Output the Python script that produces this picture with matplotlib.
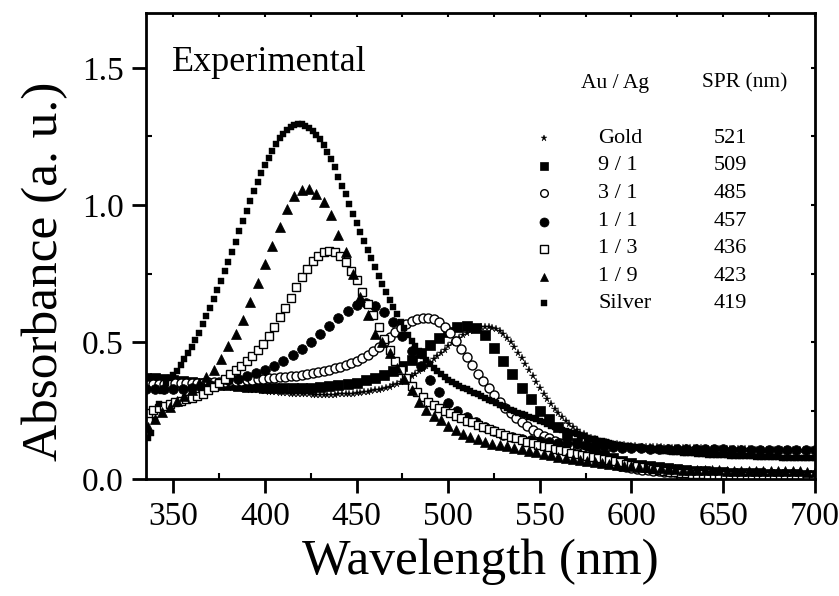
import numpy as np
import matplotlib
matplotlib.use('Agg')
import matplotlib.pyplot as plt
from matplotlib.ticker import MultipleLocator

plt.rcParams['font.family'] = ['Liberation Serif', 'DejaVu Serif']

# Au / Ag ratio, SPR position (nm)
names = ['Gold', '9 / 1', '3 / 1', '1 / 1', '1 / 3', '1 / 9', 'Silver']
spr = ['521', '509', '485', '457', '436', '423', '419']

# absorbance; first wavelength and scan step (nm) for each
gold_start, gold_step = 336, 2
gold = [0.360, 0.359, 0.358, 0.357, 0.356, 0.355, 0.354, 0.353, 0.352, 0.351,
        0.350, 0.349, 0.348, 0.347, 0.346, 0.345, 0.344, 0.343, 0.342, 0.340,
        0.339, 0.337, 0.336, 0.334, 0.333, 0.331, 0.330, 0.328, 0.327, 0.325,
        0.324, 0.322, 0.321, 0.319, 0.318, 0.317, 0.316, 0.314, 0.313, 0.312,
        0.311, 0.311, 0.310, 0.309, 0.309, 0.308, 0.308, 0.308, 0.308, 0.308,
        0.308, 0.308, 0.309, 0.309, 0.310, 0.311, 0.312, 0.313, 0.315, 0.317,
        0.319, 0.321, 0.324, 0.327, 0.330, 0.334, 0.338, 0.343, 0.348, 0.354,
        0.360, 0.367, 0.375, 0.384, 0.393, 0.403, 0.414, 0.425, 0.437, 0.449,
        0.461, 0.473, 0.484, 0.495, 0.506, 0.516, 0.525, 0.533, 0.540, 0.546,
        0.551, 0.554, 0.556, 0.556, 0.553, 0.548, 0.540, 0.530, 0.516, 0.500,
        0.482, 0.462, 0.441, 0.420, 0.398, 0.376, 0.354, 0.333, 0.312, 0.292,
        0.274, 0.257, 0.241, 0.226, 0.212, 0.200, 0.189, 0.179, 0.170, 0.163,
        0.156, 0.150, 0.145, 0.141, 0.137, 0.134, 0.131, 0.129, 0.127, 0.125,
        0.123, 0.122, 0.121, 0.120, 0.119, 0.118, 0.118, 0.117, 0.117, 0.116,
        0.116, 0.115, 0.115, 0.114, 0.114, 0.114, 0.113, 0.113, 0.113, 0.112,
        0.112, 0.112, 0.111, 0.111, 0.111, 0.111, 0.110, 0.110, 0.110, 0.110,
        0.109, 0.109, 0.109, 0.109, 0.109, 0.108, 0.108, 0.108, 0.108, 0.108,
        0.107, 0.107, 0.107, 0.107, 0.107, 0.107, 0.106, 0.106, 0.106, 0.106,
        0.106, 0.106, 0.106]

r91_start, r91_step = 335, 5
r91 = [0.370, 0.368, 0.365, 0.362, 0.358, 0.355, 0.352, 0.348, 0.345, 0.342,
       0.340, 0.337, 0.335, 0.334, 0.333, 0.333, 0.333, 0.333, 0.334, 0.336,
       0.339, 0.342, 0.346, 0.352, 0.360, 0.369, 0.381, 0.396, 0.414, 0.435,
       0.460, 0.488, 0.515, 0.538, 0.554, 0.558, 0.550, 0.525, 0.480, 0.432,
       0.384, 0.333, 0.292, 0.250, 0.218, 0.190, 0.160, 0.132, 0.118, 0.106,
       0.090, 0.077, 0.066, 0.058, 0.052, 0.047, 0.043, 0.039, 0.036, 0.033,
       0.031, 0.029, 0.027, 0.025, 0.024, 0.023, 0.022, 0.021, 0.020, 0.019,
       0.018, 0.018, 0.017, 0.017]

r31_start, r31_step = 336, 3
r31 = [0.345, 0.346, 0.347, 0.348, 0.349, 0.350, 0.350, 0.351, 0.351, 0.352,
       0.352, 0.353, 0.354, 0.355, 0.356, 0.357, 0.358, 0.359, 0.360, 0.362,
       0.364, 0.366, 0.368, 0.370, 0.372, 0.374, 0.376, 0.378, 0.380, 0.383,
       0.386, 0.390, 0.394, 0.399, 0.404, 0.410, 0.416, 0.423, 0.431, 0.441,
       0.453, 0.467, 0.483, 0.500, 0.518, 0.536, 0.553, 0.567, 0.578, 0.585,
       0.588, 0.587, 0.583, 0.572, 0.555, 0.533, 0.505, 0.475, 0.447, 0.416,
       0.384, 0.357, 0.332, 0.306, 0.283, 0.261, 0.241, 0.223, 0.207, 0.193,
       0.180, 0.169, 0.159, 0.150, 0.140, 0.131, 0.122, 0.113, 0.105, 0.097,
       0.089, 0.081, 0.073, 0.066, 0.060, 0.054, 0.049, 0.045, 0.041, 0.038,
       0.035, 0.033, 0.031, 0.029, 0.028, 0.026, 0.025, 0.024, 0.022, 0.021,
       0.020, 0.019, 0.018, 0.017, 0.016, 0.016, 0.015, 0.015, 0.014, 0.014,
       0.013, 0.013, 0.012, 0.012, 0.012, 0.011, 0.011, 0.011, 0.010, 0.010,
       0.010, 0.010]

r11_start, r11_step = 335, 5
r11 = [0.330, 0.329, 0.329, 0.329, 0.329, 0.332, 0.338, 0.345, 0.352, 0.360,
       0.367, 0.375, 0.386, 0.397, 0.413, 0.431, 0.452, 0.475, 0.502, 0.530,
       0.560, 0.588, 0.614, 0.634, 0.644, 0.632, 0.610, 0.572, 0.522, 0.467,
       0.413, 0.360, 0.318, 0.279, 0.249, 0.226, 0.209, 0.190, 0.175, 0.162,
       0.154, 0.148, 0.143, 0.139, 0.136, 0.133, 0.131, 0.128, 0.126, 0.124,
       0.121, 0.118, 0.115, 0.113, 0.112, 0.111, 0.111, 0.110, 0.110, 0.110,
       0.109, 0.109, 0.109, 0.109, 0.108, 0.108, 0.108, 0.108, 0.108, 0.107,
       0.107, 0.107, 0.107, 0.107]

r13_start, r13_step = 336, 3
r13 = [0.241, 0.252, 0.260, 0.268, 0.274, 0.280, 0.285, 0.291, 0.297, 0.303,
       0.311, 0.325, 0.338, 0.352, 0.367, 0.382, 0.397, 0.413, 0.430, 0.448,
       0.470, 0.494, 0.522, 0.555, 0.590, 0.625, 0.662, 0.700, 0.737, 0.768,
       0.795, 0.815, 0.828, 0.833, 0.830, 0.815, 0.792, 0.760, 0.725, 0.683,
       0.640, 0.600, 0.556, 0.512, 0.470, 0.432, 0.400, 0.370, 0.340, 0.318,
       0.298, 0.283, 0.270, 0.259, 0.249, 0.240, 0.231, 0.222, 0.214, 0.207,
       0.199, 0.191, 0.183, 0.176, 0.169, 0.162, 0.155, 0.149, 0.143, 0.137,
       0.131, 0.126, 0.121, 0.116, 0.111, 0.106, 0.101, 0.097, 0.093, 0.089,
       0.085, 0.081, 0.077, 0.073, 0.069, 0.065, 0.061, 0.057, 0.053, 0.049,
       0.045, 0.041, 0.037, 0.034, 0.031, 0.028, 0.026, 0.024, 0.022, 0.020,
       0.019, 0.018, 0.017, 0.016, 0.015, 0.015, 0.014, 0.014, 0.013, 0.013,
       0.013, 0.012, 0.012, 0.012, 0.012, 0.011, 0.011, 0.011, 0.011, 0.011,
       0.010, 0.010]

r19_start, r19_step = 336, 4
r19 = [0.190, 0.220, 0.245, 0.265, 0.285, 0.305, 0.325, 0.350, 0.373, 0.400,
       0.438, 0.485, 0.530, 0.582, 0.645, 0.715, 0.785, 0.852, 0.920, 0.985,
       1.032, 1.056, 1.060, 1.040, 1.010, 0.963, 0.890, 0.830, 0.747, 0.665,
       0.600, 0.530, 0.500, 0.460, 0.405, 0.365, 0.325, 0.283, 0.252, 0.232,
       0.215, 0.195, 0.180, 0.165, 0.155, 0.145, 0.137, 0.130, 0.125, 0.120,
       0.115, 0.110, 0.104, 0.098, 0.092, 0.087, 0.082, 0.078, 0.074, 0.070,
       0.066, 0.062, 0.058, 0.055, 0.052, 0.049, 0.047, 0.045, 0.043, 0.041,
       0.039, 0.038, 0.036, 0.035, 0.034, 0.033, 0.033, 0.032, 0.032, 0.031,
       0.031, 0.031, 0.030, 0.030, 0.030, 0.030, 0.029, 0.029, 0.029, 0.029,
       0.028, 0.028]

silver_start, silver_step = 336, 2
silver = [0.150, 0.170, 0.215, 0.275, 0.320, 0.350, 0.368, 0.380, 0.396, 0.415,
          0.438, 0.460, 0.482, 0.508, 0.535, 0.565, 0.595, 0.626, 0.658, 0.690,
          0.723, 0.758, 0.791, 0.828, 0.865, 0.904, 0.943, 0.980, 1.015, 1.050,
          1.083, 1.116, 1.147, 1.173, 1.198, 1.222, 1.243, 1.260, 1.273, 1.284,
          1.291, 1.295, 1.295, 1.290, 1.282, 1.270, 1.256, 1.239, 1.219, 1.194,
          1.168, 1.137, 1.104, 1.071, 1.039, 1.004, 0.969, 0.935, 0.901, 0.869,
          0.837, 0.805, 0.773, 0.742, 0.712, 0.683, 0.655, 0.628, 0.601, 0.575,
          0.550, 0.527, 0.505, 0.485, 0.467, 0.451, 0.436, 0.421, 0.407, 0.394,
          0.382, 0.371, 0.362, 0.354, 0.347, 0.340, 0.334, 0.328, 0.321, 0.315,
          0.309, 0.302, 0.296, 0.290, 0.284, 0.278, 0.272, 0.266, 0.260, 0.254,
          0.249, 0.243, 0.238, 0.233, 0.228, 0.223, 0.218, 0.213, 0.208, 0.200,
          0.195, 0.190, 0.185, 0.180, 0.176, 0.171, 0.167, 0.163, 0.159, 0.156,
          0.152, 0.148, 0.145, 0.141, 0.138, 0.135, 0.132, 0.129, 0.126, 0.124,
          0.122, 0.120, 0.118, 0.116, 0.114, 0.112, 0.110, 0.109, 0.107, 0.106,
          0.104, 0.103, 0.102, 0.100, 0.099, 0.098, 0.097, 0.096, 0.095, 0.094,
          0.093, 0.092, 0.091, 0.090, 0.090, 0.089, 0.088, 0.087, 0.087, 0.086,
          0.085, 0.085, 0.084, 0.084, 0.083, 0.083, 0.082, 0.082, 0.081, 0.081,
          0.080, 0.080, 0.080, 0.079, 0.079, 0.079, 0.078, 0.078, 0.078, 0.077,
          0.077, 0.077, 0.077]


def wavelengths(start, step, values):
    return start + step * np.arange(len(values))


# marker style for each sample: (marker, size, face, edge width)
styles = [('*', 5.5, 'k', 0.3),
          ('s', 6.5, 'k', 0.5),
          ('o', 6.5, 'white', 1.0),
          ('o', 7.0, 'k', 0.5),
          ('s', 6.0, 'white', 1.0),
          ('^', 7.0, 'k', 0.5),
          ('s', 4.2, 'k', 0.3)]

series = [(gold_start, gold_step, gold), (r91_start, r91_step, r91),
          (r31_start, r31_step, r31), (r11_start, r11_step, r11),
          (r13_start, r13_step, r13), (r19_start, r19_step, r19),
          (silver_start, silver_step, silver)]

fig = plt.figure(figsize=(8.39, 5.96), dpi=100)
ax = fig.add_axes([0.174, 0.196, 0.797, 0.782])

for (start, step, vals), (m, ms, fc, mew) in zip(series, styles):
    ax.plot(wavelengths(start, step, vals), vals, linestyle='none', marker=m,
            markersize=ms, markerfacecolor=fc, markeredgecolor='k',
            markeredgewidth=mew, clip_on=True)

ax.set_xlim(335, 700)
ax.set_ylim(0, 1.7)
ax.xaxis.set_major_locator(MultipleLocator(50))
ax.xaxis.set_minor_locator(MultipleLocator(25))
ax.yaxis.set_major_locator(MultipleLocator(0.5))
ax.yaxis.set_minor_locator(MultipleLocator(0.25))
ax.yaxis.set_major_formatter(plt.FormatStrFormatter('%.1f'))
ax.tick_params(which='major', direction='out', length=10, width=2,
               labelsize=24, pad=6, top=False, right=False)
ax.tick_params(which='minor', direction='in', length=4, width=1.5,
               top=False, right=False)
for s in ax.spines.values():
    s.set_linewidth(2)

top = ax.secondary_xaxis('top')
top.xaxis.set_major_locator(MultipleLocator(50))
top.xaxis.set_minor_locator(MultipleLocator(25))
top.tick_params(which='both', direction='in', length=3, width=1.5, labeltop=False)
right = ax.secondary_yaxis('right')
right.yaxis.set_major_locator(MultipleLocator(0.5))
right.yaxis.set_minor_locator(MultipleLocator(0.25))
right.tick_params(which='both', direction='in', length=3, width=1.5, labelright=False)

ax.set_xlabel('Wavelength (nm)', fontsize=37, labelpad=5)
ax.set_ylabel('Absorbance (a. u.)', fontsize=37)
ax.yaxis.set_label_coords(-0.117, 0.445)

ax.text(0.039, 0.895, 'Experimental', transform=ax.transAxes, fontsize=26,
        ha='left', va='center')

# legend table
ax.text(0.701, 0.85, 'Au / Ag', transform=ax.transAxes, fontsize=15.5,
        ha='center', va='center')
ax.text(0.895, 0.85, 'SPR (nm)', transform=ax.transAxes, fontsize=15.5,
        ha='center', va='center')
rows_y = [0.731, 0.672, 0.613, 0.552, 0.494, 0.434, 0.377]
legend_ms = [5.0, 6.0, 5.5, 6.5, 5.5, 6.0, 5.0]
for name, val, ry, (m, ms, fc, mew), lms in zip(names, spr, rows_y, styles, legend_ms):
    ax.plot([0.595], [ry], transform=ax.transAxes, linestyle='none', marker=m,
            markersize=lms, markerfacecolor=fc, markeredgecolor='k',
            markeredgewidth=mew, clip_on=False)
    ax.text(0.676, ry, name, transform=ax.transAxes, fontsize=16,
            ha='left', va='center')
    ax.text(0.874, ry, val, transform=ax.transAxes, fontsize=16,
            ha='center', va='center')

fig.savefig('out.png', dpi=100)
